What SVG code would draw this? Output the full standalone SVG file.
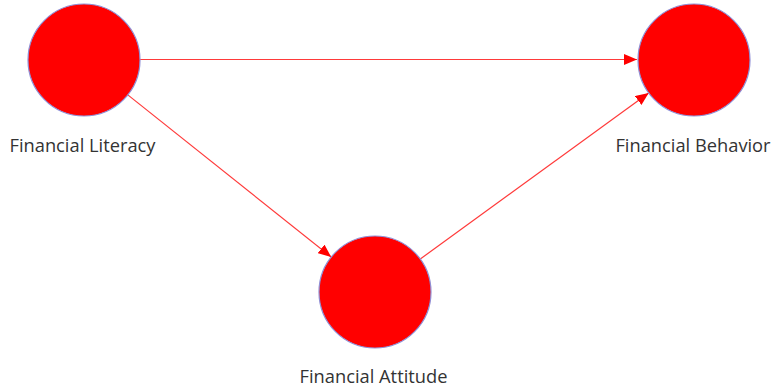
<svg xmlns="http://www.w3.org/2000/svg" width="774" height="387" viewBox="0 0 774 387">
<style>
.node{fill:#ff0000;stroke:#8f8fd6;stroke-width:1.2}
.lbl{font-family:"Open Sans","Noto Sans",sans-serif;font-size:18.3px;fill:#333;text-anchor:middle}
.edge{stroke:#ff3a3a;stroke-width:1.2;fill:none}
</style>
<defs>
<marker id="ah" viewBox="0 0 13 11" refX="13" refY="5.5" markerWidth="13" markerHeight="11" markerUnits="userSpaceOnUse" orient="auto">
<path d="M0,0 L13,5.5 L0,11 z" fill="#ff0000"/>
</marker>
</defs>
<rect width="774" height="387" fill="#fff"/>
<g id="connectors">
<line class="edge" x1="140" y1="59.5" x2="637" y2="59.5" stroke="#e00000" marker-end="url(#ah)"/>
<line class="edge" x1="127.8" y1="94.9" x2="331.2" y2="257" marker-end="url(#ah)"/>
<line class="edge" x1="420.3" y1="259" x2="648.7" y2="92.9" marker-end="url(#ah)"/>
</g>
<g id="literacy">
<circle class="node" cx="84" cy="60" r="56"/>
<text class="lbl" x="82.5" y="152">Financial Literacy</text>
</g>
<g id="behavior">
<circle class="node" cx="694" cy="60" r="56"/>
<text class="lbl" x="693" y="152">Financial Behavior</text>
</g>
<g id="attitude">
<circle class="node" cx="375" cy="292" r="56"/>
<text class="lbl" x="373.5" y="383">Financial Attitude</text>
</g>
</svg>
